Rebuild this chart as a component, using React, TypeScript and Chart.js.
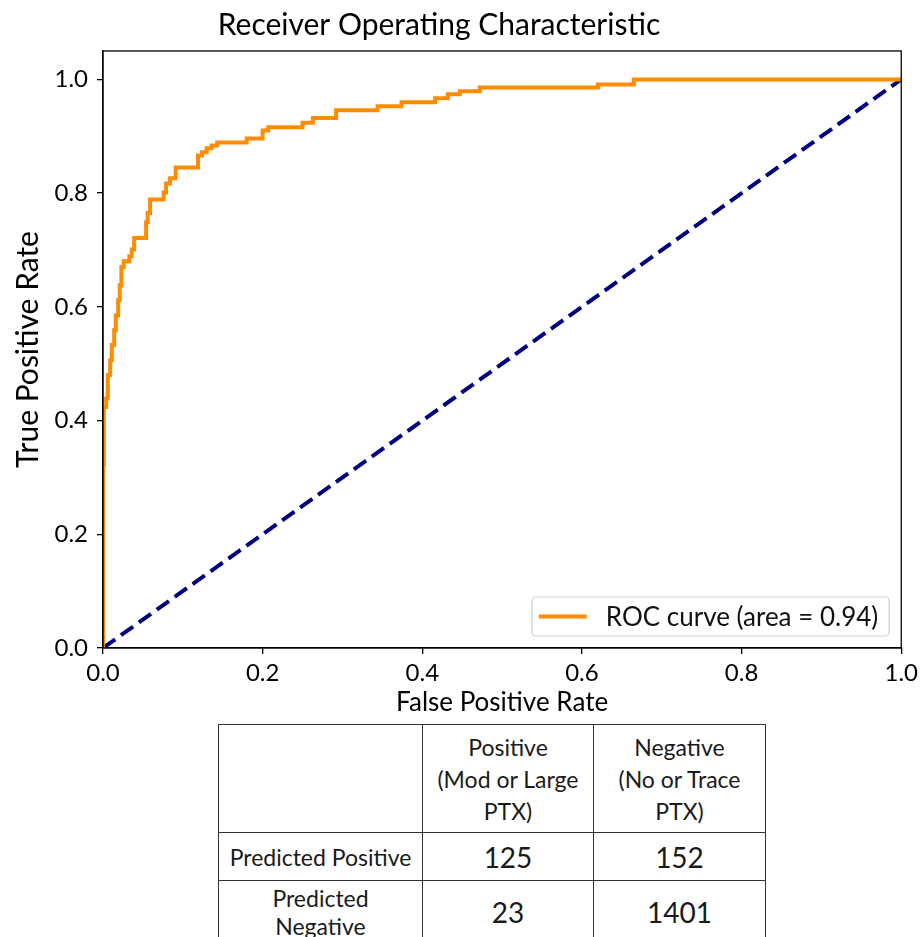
import React, { useEffect, useRef } from "react";
import { Chart, registerables } from "chart.js";

Chart.register(...registerables);

// ROC curve corner points (top of each vertical step)
const fpr = [0, 0, 0.001, 0.004, 0.006, 0.009, 0.011, 0.014, 0.016, 0.019, 0.021, 0.023, 0.026, 0.033, 0.036, 0.039, 0.054, 0.056, 0.059, 0.076, 0.079, 0.084, 0.091, 0.119, 0.124, 0.130, 0.136, 0.143, 0.180, 0.200, 0.207, 0.250, 0.263, 0.292, 0.344, 0.374, 0.416, 0.432, 0.447, 0.472, 0.620, 0.665, 1.0];
const tpr = [0, 0.322, 0.424, 0.439, 0.480, 0.506, 0.533, 0.559, 0.585, 0.612, 0.638, 0.670, 0.680, 0.689, 0.701, 0.721, 0.749, 0.765, 0.789, 0.801, 0.817, 0.826, 0.845, 0.866, 0.872, 0.879, 0.884, 0.889, 0.896, 0.910, 0.916, 0.924, 0.932, 0.946, 0.953, 0.960, 0.967, 0.974, 0.979, 0.986, 0.991, 1.0, 1.0];
const chanceFpr = [0, 1];
const chanceTpr = [0, 1];

const rocLabel = "ROC curve (area = 0.94)";
const chartTitle = "Receiver Operating Characteristic";
const xTitle = "False Positive Rate";
const yTitle = "True Positive Rate";

const colHeaders = [["Positive", "(Mod or Large", "PTX)"], ["Negative", "(No or Trace", "PTX)"]];
const rowLabels = [["Predicted Positive"], ["Predicted", "Negative"]];
const positiveCounts = [125, 23];
const negativeCounts = [152, 1401];

const FONT = "Lato, 'Open Sans', sans-serif";

const framePlugin = {
  id: "frame",
  afterDatasetsDraw(chart: any) {
    const { ctx, chartArea: a } = chart;
    ctx.save();
    ctx.strokeStyle = "#000";
    ctx.lineWidth = 1.3;
    ctx.strokeRect(a.left, a.top, a.right - a.left, a.bottom - a.top);
    ctx.restore();
  },
};

const titlePlugin = {
  id: "plainTitle",
  afterDraw(chart: any) {
    const { ctx } = chart;
    ctx.save();
    ctx.font = `30px ${FONT}`;
    ctx.fillStyle = "#000";
    ctx.textAlign = "center";
    ctx.textBaseline = "middle";
    ctx.fillText(chartTitle, 439, 25);
    ctx.restore();
  },
};

const insideLegendPlugin = {
  id: "insideLegend",
  afterDraw(chart: any) {
    const { ctx, chartArea: a } = chart;
    const ds = chart.data.datasets[0];
    ctx.save();
    ctx.font = `26px ${FONT}`;
    const tw = ctx.measureText(ds.label).width;
    const boxW = 7 + 48 + 19 + tw + 11;
    const boxH = 39;
    const right = a.right - 12;
    const bottom = a.bottom - 12;
    const left = right - boxW;
    const top = bottom - boxH;
    ctx.beginPath();
    (ctx as any).roundRect(left, top, boxW, boxH, 4);
    ctx.fillStyle = "rgba(255,255,255,0.85)";
    ctx.fill();
    ctx.strokeStyle = "#d0d0d0";
    ctx.lineWidth = 1.2;
    ctx.stroke();
    const cy = top + boxH / 2;
    ctx.beginPath();
    ctx.moveTo(left + 7, cy);
    ctx.lineTo(left + 55, cy);
    ctx.strokeStyle = ds.borderColor;
    ctx.lineWidth = 4;
    ctx.stroke();
    ctx.fillStyle = "#111";
    ctx.textAlign = "left";
    ctx.textBaseline = "middle";
    ctx.fillText(ds.label, left + 74, cy + 1);
    ctx.restore();
  },
};

function RocChart() {
  const ref = useRef<HTMLCanvasElement | null>(null);
  useEffect(() => {
    if (!ref.current) return;
    const chart = new Chart(ref.current, {
      type: "line",
      data: {
        datasets: [
          {
            label: rocLabel,
            data: fpr.map((x, i) => ({ x, y: tpr[i] })),
            borderColor: "#FF8C00",
            borderWidth: 4,
            pointRadius: 0,
            stepped: "before",
            fill: false,
          },
          {
            label: "chance",
            data: chanceFpr.map((x, i) => ({ x, y: chanceTpr[i] })),
            borderColor: "#000080",
            borderWidth: 4,
            borderDash: [15, 7],
            pointRadius: 0,
            fill: false,
          },
        ],
      },
      options: {
        animation: false,
        responsive: false,
        maintainAspectRatio: false,
        layout: { padding: { top: 51, left: 0, right: 21, bottom: 0 } },
        plugins: {
          legend: { display: false },
          tooltip: { enabled: false },
          title: { display: false },
        },
        scales: {
          x: {
            type: "linear",
            min: 0,
            max: 1,
            afterFit: (s: any) => {
              s.height = 72;
            },
            ticks: {
              stepSize: 0.2,
              includeBounds: false,
              padding: 5,
              color: "#000",
              font: { family: FONT, size: 24 },
              callback: (v: any) => Number(v).toFixed(1),
              maxRotation: 0,
            },
            grid: { drawOnChartArea: false, drawTicks: true, tickLength: 6, color: "#000", lineWidth: 1.3 },
            border: { display: true, color: "#000", width: 1.3 },
            title: {
              display: true,
              text: xTitle,
              color: "#000",
              font: { family: FONT, size: 26 },
              padding: { top: 0, bottom: 2 },
            },
          },
          y: {
            type: "linear",
            min: 0,
            max: 1.05,
            afterFit: (s: any) => {
              s.width = 103;
            },
            ticks: {
              stepSize: 0.2,
              includeBounds: false,
              padding: 9,
              color: "#000",
              font: { family: FONT, size: 24 },
              callback: (v: any) => Number(v).toFixed(1),
            },
            grid: { drawOnChartArea: false, drawTicks: true, tickLength: 6, color: "#000", lineWidth: 1.3 },
            border: { display: true, color: "#000", width: 1.3 },
            title: {
              display: true,
              text: yTitle,
              color: "#000",
              font: { family: FONT, size: 30 },
              padding: { top: 10, bottom: 0 },
            },
          },
        },
      },
      plugins: [framePlugin, titlePlugin, insideLegendPlugin],
    } as any);
    return () => chart.destroy();
  }, []);
  return <canvas ref={ref} width={923} height={720} style={{ display: "block", width: 923, height: 720 }} />;
}

function ConfusionTable() {
  const border = "1.6px solid #333";
  const cell: React.CSSProperties = {
    border,
    textAlign: "center",
    verticalAlign: "middle",
    padding: 0,
    color: "#1a1a1a",
  };
  const lines = (arr: string[], lh: number) =>
    arr.map((t, i) => (
      <div key={i} style={{ lineHeight: `${lh}px` }}>
        {t}
      </div>
    ));
  return (
    <table
      style={{
        position: "absolute",
        left: 218,
        top: 724,
        width: 547,
        borderCollapse: "collapse",
        tableLayout: "fixed",
        fontFamily: FONT,
        fontSize: 23,
      }}
    >
      <colgroup>
        <col style={{ width: 204 }} />
        <col style={{ width: 171 }} />
        <col style={{ width: 172 }} />
      </colgroup>
      <tbody>
        <tr style={{ height: 108 }}>
          <td style={cell}></td>
          <td style={cell}>{lines(colHeaders[0], 32)}</td>
          <td style={cell}>{lines(colHeaders[1], 32)}</td>
        </tr>
        {rowLabels.map((lab, r) => (
          <tr key={r} style={{ height: r === 0 ? 48 : 62 }}>
            <td style={cell}>{lines(lab, 28)}</td>
            <td style={{ ...cell, fontSize: 28 }}>{positiveCounts[r]}</td>
            <td style={{ ...cell, fontSize: 28 }}>{negativeCounts[r]}</td>
          </tr>
        ))}
      </tbody>
    </table>
  );
}

export default function App() {
  return (
    <div
      style={{
        position: "absolute",
        left: 0,
        top: 0,
        width: 923,
        height: 937,
        overflow: "hidden",
        background: "#fff",
      }}
    >
      <RocChart />
      <ConfusionTable />
    </div>
  );
}
